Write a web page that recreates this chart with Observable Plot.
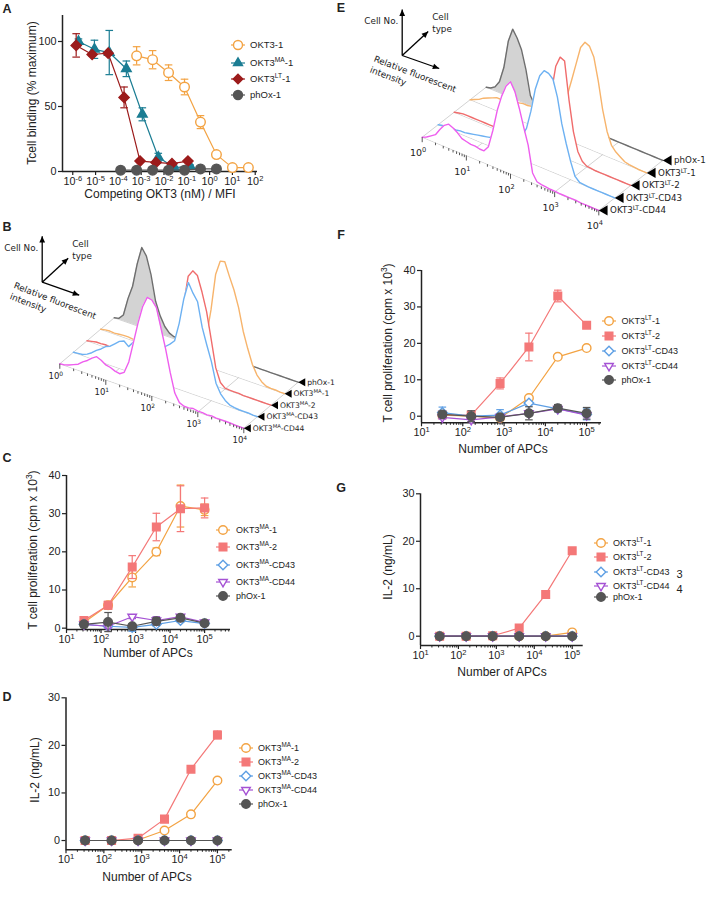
<!DOCTYPE html>
<html><head><meta charset="utf-8">
<script src="https://cdn.jsdelivr.net/npm/d3@7"></script>
<script src="https://cdn.jsdelivr.net/npm/@observablehq/plot@0.6"></script>
<style>
body{margin:0;background:#fff;}
#fig{position:relative;width:708px;height:904px;overflow:hidden;font-family:"Liberation Sans",Arial,sans-serif;color:#222;background:#fff;}
.plab{position:absolute;font-weight:bold;font-size:12.5px;transform:translate(-50%,-50%);}
.xt{position:absolute;font-size:12px;transform:translate(-50%,-50%);white-space:nowrap;}
.yt{position:absolute;font-size:12px;transform:translate(-50%,-50%) rotate(-90deg);white-space:nowrap;}
.num{position:absolute;font-size:11px;transform:translate(-50%,-50%);}
.leg{position:absolute;white-space:nowrap;transform:translateY(-50%);line-height:1;}
sup{font-size:70%;line-height:0;vertical-align:super;}
</style></head><body><div id="fig"></div>
<script>
// ---------------- DATA ----------------
const apcs = [32, 160, 800, 4000, 20000, 100000];
// Panel A (log10 of competing concentration)
const aLogOKT3 = [-3.2,-2.5,-1.8,-1.1,-0.4,0.3,1.0,1.7];
const aOKT3 = [89,86,76,65,38,13,3,3];
const aOKT3err = [7,7,6,6,5,2,1,1];
const aLogMA = [-5.75,-5.05,-4.4,-3.65,-2.95,-2.25,-1.55,-0.85];
const aMA = [100,94,91.5,79,44,11,3,4];
const aMAerr = [2,7,17,6,5,3,1,1];
const aLogLT = [-5.85,-5.15,-4.45,-3.75,-3.05,-2.35,-1.65,-0.95];
const aLT = [97,90,91,57,8,7,6,8];
const aLTerr = [9,1,1,8,1,1,1,1];
const aLogPhOx = [-3.9,-3.2,-2.5,-1.8,-1.1,-0.4,0.3];
const aPhOx = [1,1,1,1,1,2,2];
const aNames = ["OKT3-1","OKT3^MA^-1","OKT3^LT^-1","phOx-1"];
// Panel C
const cMA1 = [1.5,6,13.3,20,32,31];      const cMA1err = [0.5,1,2.5,1,5.5,1.5];
const cMA2 = [2,6,16,26.5,31.3,31.5];    const cMA2err = [0.5,1,3,3.6,6,2.6];
const cCD43 = [1,0.5,0.2,1,2,1.2];       const cCD43err = [0.3,0.3,1,0.5,0.5,0.5];
const cCD44 = [1,0.5,3,2,3,1.5];         const cCD44err = [0.5,0.5,0.5,1,0.5,0.5];
const cPhOx = [1,1.6,0.5,1.8,2.7,1.3];   const cPhOxerr = [0.5,2.5,0.5,1,0.8,0.5];
// Panel D
const dMA1 = [0,0,0.1,2.1,5.5,12.6];
const dMA2 = [0,0,0.5,4.5,15,22.2];      const dMA2err = [0,0,0,0.3,0.3,0.8];
const dCD43 = [0,0,0,0,0,0];
const dCD44 = [0,0,0,0,0,0];
const dPhOx = [0,0,0,0,0,0];
// Panel F
const fLT1 = [0.3,0,-0.5,5,16.3,18.7];
const fLT2 = [0.4,0.3,9,19,33,25];       const fLT2err = [0.5,0.5,1.5,3.8,1.6,0.5];
const fCD43 = [1,0,0.3,3.6,2,0.5];       const fCD43err = [1.5,0.5,1.5,0.5,0.5,1.5];
const fCD44 = [-0.3,-1,-0.2,0.8,2,0.3];  const fCD44err = [0.5,0.5,0.5,0.5,0.5,0.5];
const fPhOx = [0.5,0,-0.3,0.8,2.2,0.8];  const fPhOxerr = [0.8,1.5,0.8,1.8,1,1.6];
// Panel G
const gLT1 = [0,0,0,0,0,0.8];
const gLT2 = [0,0,0.1,1.7,8.8,18];
const gCD43 = [0,0,0,0,0,0];
const gCD44 = [0,0,0,0,0,0];
const gPhOx = [0,0,0,0,0,0];
const maNames = ["OKT3^MA^-1","OKT3^MA^-2","OKT3^MA^-CD43","OKT3^MA^-CD44","phOx-1"];
const ltNames = ["OKT3^LT^-1","OKT3^LT^-2","OKT3^LT^-CD43","OKT3^LT^-CD44","phOx-1"];
// Histograms (log10 intensity grid, counts), front (CD44) to back (phOx-1)
const histL = [0,0.1,0.2,0.3,0.4,0.5,0.6,0.7,0.8,0.9,1,1.1,1.2,1.3,1.4,1.5,1.6,1.7,1.8,1.9,2,2.1,2.2,2.3,2.4,2.5,2.6,2.7,2.8,2.9,3,3.1,3.2,3.3,3.4,3.5,3.6,3.7,3.8,3.9,4];
const bCD44 = [0,0.5,2,4,6,10,13,17,20,18,15,14,12,11,14,26,47,68,86,97,96,90,71,52,30,11,3,1,1,2,1,1,0.5,1,0.5,0.5,0.5,0.5,0,0,0];
const bCD43 = [0,0.5,1,3,6,10,13,17,19,23,27,29,25,31,28,30,31,33,34,36,38,42,47,66,92,110,101,94,70,54,39,19,10,5,2,1,0.5,0.5,0.5,0,0];
const bMA2  = [0,1,2,2,2.5,2,2,2,3,3,3,3,3,3,3,3,3,3,5,12,35,70,100,107,104,89,71,45,18,5,1,0.5,0.5,0.5,0,0,0,0,0,0,0];
const bMA1  = [0,1,1.5,1,1.5,2,2,1.5,2,2,2,2,1.5,2,2,2,2,2,2.5,2.5,3,5,12,30,58,95,110,111,98,86,70,48,32,18,9,4,1,0.5,0.5,0,0];
const bPhOx = [0,1,6,24,38,62,80,73,56,31,18,9,4,2,1,1,0.5,0.5,0.5,0,0,0,0,0,0,0,0,0,0,0,0,0,0,0,0,0,0,0,0,0,0];
const bNames = ["OKT3^MA^-CD44","OKT3^MA^-CD43","OKT3^MA^-2","OKT3^MA^-1","phOx-1"];
const eCD44 = [0,2,5,8,15,21,24,22,19,15,14,13,13,12,12,18,36,58,74,86,92,84,69,52,36,10,3,2,1.5,1,1,0.5,0.5,0.5,0.5,0.5,0,0,0,0,0];
const eCD43 = [0,1,1,2,2,3,3,4,5,6,7,8,9,10,12,14,16,18,20,24,33,52,76,91,98,97,93,77,52,34,18,5,1,0.5,0,0,0,0,0,0,0];
const eLT2  = [0,1,2,2,2,2,2,2,2,2,2.5,2.5,2.5,3,3,3,3,3,4,6,12,30,60,88,99,97,60,30,12,4,1,0.5,0,0,0,0,0,0,0,0,0];
const eLT1  = [0,2,4,7,9,11,13,13,14,15,16,17,18,18,19,20,21,22,23,25,28,34,45,62,80,98,105,103,94,72,45,25,13,8,5,2,1,0.5,0,0,0];
const ePhOx = [0,1,4,11,27,55,69,62,52,34,10,2,1,0.5,0,0,0,0,0,0,0,0,0,0,0,0,0,0,0,0,0,0,0,0,0,0,0,0,0,0,0];
const eNames = ["OKT3^LT^-CD44","OKT3^LT^-CD43","OKT3^LT^-2","OKT3^LT^-1","phOx-1"];
const decades = [0,1,2,3,4];

// ---------------- STYLE ----------------
const cOrange="#F3A343", cSalmon="#F47878", cBlue="#5E9FE4", cPurple="#A552D4", cGrey="#555555", cTeal="#1B7D93", cRed="#9C1B1B";
const hColors=["#EE5EEE","#6DB1F2","#F06C6C","#F7B46C","#6E6E6E"];
const hFills=["white","white","white","white","#D3D3D3"];
const SVGNS="http://www.w3.org/2000/svg";
const fig=document.getElementById("fig");
const circle=d3.symbolCircle, square=d3.symbolSquare, diamond=d3.symbolDiamond2;
const triUp={draw(c,s){const R=Math.sqrt(s/Math.PI)*1.3;c.moveTo(0,-R);c.lineTo(R*0.866,R/2);c.lineTo(-R*0.866,R/2);c.closePath();}};
const triDown={draw(c,s){const R=Math.sqrt(s/Math.PI)*1.3;c.moveTo(0,R);c.lineTo(R*0.866,-R/2);c.lineTo(-R*0.866,-R/2);c.closePath();}};
const triLeft={draw(c,s){const R=Math.sqrt(s/Math.PI)*1.3;c.moveTo(-R,0);c.lineTo(R/2,-R*0.866);c.lineTo(R/2,R*0.866);c.closePath();}};
const capSym={draw(c,s){const r=Math.sqrt(s/Math.PI);c.moveTo(-r,0);c.lineTo(r,0);}};
function headSym(dx,dy){const L=Math.hypot(dx,dy),ux=dx/L,uy=dy/L,px=-uy,py=ux;
  return {draw(c,s){const h=Math.sqrt(s/Math.PI)*2,w=h*0.45;c.moveTo(0,0);c.lineTo(-ux*h+px*w,-uy*h+py*w);c.lineTo(-ux*h-px*w,-uy*h-py*w);c.closePath();}};}
const baseStyle={background:"transparent",overflow:"visible",fontFamily:"Liberation Sans, Arial, sans-serif",fontSize:"10px",color:"#222"};

function supify(root){
  root.querySelectorAll("text, tspan").forEach(el=>{
    if(el.children.length) return;
    const s=el.textContent; if(!s.includes("^")) return;
    const parts=s.split("^"); el.textContent="";
    parts.forEach((p,i)=>{ if(!p) return;
      const t=document.createElementNS(SVGNS,"tspan"); t.textContent=p;
      if(i%2){t.setAttribute("baseline-shift","super");t.setAttribute("font-size","70%");}
      el.appendChild(t);});
  });
}
function place(node,left,top,w,h){
  const d=document.createElement("div");
  d.style.cssText=`position:absolute;left:${left}px;top:${top}px;width:${w}px;height:${h}px;`;
  d.appendChild(node); fig.appendChild(d); supify(node);
}
const fmt=s=>s.replace(/\^([^^]*)\^/g,"<sup>$1</sup>");
function addText(cls,x,y,txt){const d=document.createElement("div");d.className=cls;d.style.left=x+"px";d.style.top=y+"px";d.innerHTML=fmt(txt);fig.appendChild(d);}
function minorTicks(maxExp,maxVal){const a=[];for(let e=1;e<=maxExp;e++)for(let k=2;k<=9;k++){const v=k*10**e;if(v<=maxVal)a.push(v);}return a;}

function lineChart(c){
  const marks=[];
  marks.push(Plot.ruleY([c.yDomain[0]],{stroke:"#222",strokeWidth:1.5}));
  marks.push(Plot.ruleX([c.xDomain[0]],{stroke:"#222",strokeWidth:1.5}));
  if(c.minor) marks.push(Plot.axisX({ticks:c.minor,tickSize:2.5,tickFormat:()=>"",label:null,stroke:"#222"}));
  marks.push(Plot.axisX({ticks:c.xTicks,tickSize:4,tickPadding:2,label:null,tickFormat:d=>"10^"+Math.round(Math.log10(d))+"^",stroke:"#222",strokeWidth:1.2,fontSize:10.8}));
  marks.push(Plot.axisY({ticks:c.yTicks,tickSize:4,tickPadding:2,label:null,tickFormat:d=>String(d),stroke:"#222",strokeWidth:1.2,fontSize:10.8}));
  c.series.forEach(s=>{
    const data=s.x.map((x,i)=>({x,y:s.y[i],e:s.err?s.err[i]:0}));
    const eb=data.filter(d=>d.e>0);
    marks.push(Plot.ruleX(eb,{x:"x",y1:d=>d.y-d.e,y2:d=>d.y+d.e,stroke:s.color,strokeWidth:1.2}));
    const caps=eb.flatMap(d=>[{x:d.x,y:d.y-d.e},{x:d.x,y:d.y+d.e}]);
    marks.push(Plot.dot(caps,{x:"x",y:"y",symbol:capSym,r:3.8,fill:"none",stroke:s.color,strokeWidth:1.2}));
    marks.push(Plot.line(data,{x:"x",y:"y",stroke:s.color,strokeWidth:1.2}));
    marks.push(Plot.dot(data,{x:"x",y:"y",symbol:s.symbol,r:s.r,fill:s.fill,stroke:s.color,strokeWidth:1.4}));
  });
  const p=Plot.plot({width:c.width,height:c.height,marginLeft:c.mL,marginRight:c.mR,marginTop:c.mT,marginBottom:c.mB,
    x:{type:"log",domain:c.xDomain},y:{domain:c.yDomain},style:baseStyle,marks});
  place(p,c.left,c.top,c.width,c.height);
}
function legend(items,symX,textX,ys,fs){
  items.forEach((it,i)=>{
    const svg=document.createElementNS(SVGNS,"svg");
    svg.setAttribute("width",16);svg.setAttribute("height",14);
    svg.style.cssText=`position:absolute;left:${symX-8}px;top:${ys[i]-7}px;overflow:visible`;
    const ln=document.createElementNS(SVGNS,"line");
    ln.setAttribute("x1",1);ln.setAttribute("x2",15);ln.setAttribute("y1",7);ln.setAttribute("y2",7);
    ln.setAttribute("stroke",it.color);ln.setAttribute("stroke-width",1.2);svg.appendChild(ln);
    const pth=d3.path(); it.symbol.draw(pth,Math.PI*it.r*it.r);
    const pe=document.createElementNS(SVGNS,"path");
    pe.setAttribute("d",pth.toString());pe.setAttribute("transform","translate(8,7)");
    pe.setAttribute("fill",it.fill);pe.setAttribute("stroke",it.color);pe.setAttribute("stroke-width",1.4);
    svg.appendChild(pe); fig.appendChild(svg);
    const t=document.createElement("div");t.className="leg";
    t.style.left=textX+"px";t.style.top=ys[i]+"px";t.style.fontSize=fs+"px";t.innerHTML=fmt(it.name);
    fig.appendChild(t);
  });
}
function hist3d(o){
  const P=(L,d,h)=>[o.origin[0]+o.ex[0]*L+o.ed[0]*d, o.origin[1]+o.ex[1]*L+o.ed[1]*d-h];
  const marks=[];
  const lines=[];
  decades.forEach(L=>{const a=P(L,0,0),b=P(L,4,0);lines.push({x1:a[0],y1:a[1],x2:b[0],y2:b[1]});});
  [0,1,2,3,4].forEach(d=>{const a=P(0,d,0),b=P(4,d,0);lines.push({x1:a[0],y1:a[1],x2:b[0],y2:b[1]});});
  marks.push(Plot.link(lines,{x1:"x1",y1:"y1",x2:"x2",y2:"y2",stroke:"#c6c6c6",strokeWidth:0.8}));
  for(let d=4;d>=0;d--){
    const rows=histL.map((L,i)=>{const b=P(L,d,0),t=P(L,d,o.series[d][i]);return {x:b[0],base:b[1],top:t[1]};});
    marks.push(Plot.areaY(rows,{x:"x",y1:"base",y2:"top",fill:hFills[d],curve:"linear"}));
    marks.push(Plot.line(rows,{x:"x",y:"top",stroke:hColors[d],strokeWidth:1.4,curve:"linear"}));
  }
  const tk=[];
  decades.forEach(n=>{tk.push({L:n,len:5});if(n<4)for(let k=2;k<=9;k++)tk.push({L:n+Math.log10(k),len:2.5});});
  marks.push(Plot.link(tk,{x1:d=>P(d.L,0,0)[0],y1:d=>P(d.L,0,0)[1],x2:d=>P(d.L,0,0)[0],y2:d=>P(d.L,0,0)[1]+d.len,stroke:"#444",strokeWidth:0.9}));
  marks.push(Plot.text(decades,{x:n=>P(n,0,0)[0]+o.lab[0],y:n=>P(n,0,0)[1]+o.lab[1],text:n=>"10^"+n+"^",fontSize:o.tickFont,fontFamily:"DejaVu Sans"}));
  const lbl=o.names.map((nm,d)=>{const p=P(4,d,0);return {x:p[0],y:p[1],nm};});
  marks.push(Plot.dot(lbl,{x:"x",y:"y",dx:o.triR*1.3,symbol:triLeft,r:o.triR,fill:"black",stroke:"none"}));
  marks.push(Plot.text(lbl,{x:"x",y:"y",text:"nm",dx:o.triR*2.5,textAnchor:"start",fontSize:o.nameFont,fontFamily:"DejaVu Sans"}));
  const k=o.key;
  const dirs=[[0,-46],[26,-24],[37,13]];
  const arrows=dirs.map(v=>({x1:k[0],y1:k[1],x2:k[0]+v[0],y2:k[1]+v[1]}));
  marks.push(Plot.link(arrows,{x1:"x1",y1:"y1",x2:"x2",y2:"y2",stroke:"black",strokeWidth:1.3}));
  dirs.forEach((v,i)=>marks.push(Plot.dot([arrows[i]],{x:"x2",y:"y2",symbol:headSym(v[0],v[1]),r:3.2,fill:"black",stroke:"none"})));
  marks.push(Plot.text([{t:"Cell No.",dx:-4,dy:-34}],{x:d=>k[0]+d.dx,y:d=>k[1]+d.dy,text:"t",textAnchor:"end",fontSize:8.8,fontFamily:"DejaVu Sans"}));
  const st=[{t:"Cell",dx:30,dy:-38,r:0},{t:"type",dx:30,dy:-26,r:0},{t:"Relative fluorescent",dx:-28,dy:3,r:21},{t:"intensity",dx:-32,dy:14,r:21}];
  marks.push(Plot.text(st,{x:d=>k[0]+d.dx,y:d=>k[1]+d.dy,text:"t",rotate:"r",textAnchor:"start",fontSize:8.8,fontFamily:"DejaVu Sans"}));
  const p=Plot.plot({width:o.width,height:o.height,margin:0,
    x:{domain:[o.left,o.left+o.width],range:[0,o.width],axis:null},
    y:{domain:[o.top,o.top+o.height],range:[0,o.height],axis:null},
    style:baseStyle,marks});
  place(p,o.left,o.top,o.width,o.height);
}

// ---------------- PANEL A ----------------
lineChart({left:0,top:0,width:300,height:210,mL:62,mT:15,mB:39,mR:43,
  xDomain:[10**-6.45,10**2.1],yDomain:[0,120],xTicks:[1e-6,1e-5,1e-4,1e-3,1e-2,1e-1,1,10,100],yTicks:[0,50,100],
  series:[
    {x:aLogOKT3.map(v=>10**v),y:aOKT3,err:aOKT3err,color:cOrange,symbol:circle,fill:"white",r:4.8},
    {x:aLogMA.map(v=>10**v),y:aMA,err:aMAerr,color:cTeal,symbol:triUp,fill:cTeal,r:4.3},
    {x:aLogLT.map(v=>10**v),y:aLT,err:aLTerr,color:cRed,symbol:diamond,fill:cRed,r:4.6},
    {x:aLogPhOx.map(v=>10**v),y:aPhOx,color:cGrey,symbol:circle,fill:cGrey,r:4.8}]});
legend([{name:aNames[0],color:cOrange,symbol:circle,fill:"white",r:4.5},{name:aNames[1],color:cTeal,symbol:triUp,fill:cTeal,r:4},
  {name:aNames[2],color:cRed,symbol:diamond,fill:cRed,r:4.3},{name:aNames[3],color:cGrey,symbol:circle,fill:cGrey,r:4.5}],238,250,[44.5,62.5,79,95],9.5);

const st5=(names)=>[
  {name:names[0],color:cOrange,symbol:circle,fill:"white",r:4.3},
  {name:names[1],color:cSalmon,symbol:square,fill:cSalmon,r:4.3},
  {name:names[2],color:cBlue,symbol:diamond,fill:"white",r:4.3},
  {name:names[3],color:cPurple,symbol:triDown,fill:"white",r:3.8},
  {name:names[4],color:cGrey,symbol:circle,fill:cGrey,r:4.3}];
function series5(names,ys,errs){return st5(names).map((s,i)=>({...s,x:apcs,y:ys[i],err:errs[i]}));}

// ---------------- PANEL C ----------------
lineChart({left:0,top:455,width:260,height:200,mL:66,mT:20,mB:26,mR:30,
  xDomain:[10,10**5.75],yDomain:[-0.35,40],xTicks:[10,100,1e3,1e4,1e5],yTicks:[0,10,20,30,40],minor:minorTicks(5,10**5.75),
  series:series5(maNames,[cMA1,cMA2,cCD43,cCD44,cPhOx],[cMA1err,cMA2err,cCD43err,cCD44err,cPhOxerr])});
legend(st5(maNames),223,236,[530,547,565,582,596],9);
// ---------------- PANEL D ----------------
lineChart({left:0,top:680,width:260,height:190,mL:65.5,mT:17.3,mB:20.7,mR:28.3,
  xDomain:[10,10**5.39],yDomain:[-1.95,30],xTicks:[10,100,1e3,1e4,1e5],yTicks:[0,10,20,30],minor:minorTicks(5,10**5.39),
  series:series5(maNames,[dMA1,dMA2,dCD43,dCD44,dPhOx],[null,dMA2err,null,null,null])});
legend(st5(maNames),245.5,258,[747.5,762,776,790,803.5],9);
// ---------------- PANEL F ----------------
lineChart({left:360,top:250,width:270,height:200,mL:61,mT:20,mB:27.7,mR:29,
  xDomain:[10,10**5.36],yDomain:[-1.81,40],xTicks:[10,100,1e3,1e4,1e5],yTicks:[0,10,20,30,40],minor:minorTicks(5,10**5.36),
  series:series5(ltNames,[fLT1,fLT2,fCD43,fCD44,fPhOx],[null,fLT2err,fCD43err,fCD44err,fPhOxerr])});
legend(st5(ltNames),609,621.5,[321,336,351,366,379.5],9);
// ---------------- PANEL G ----------------
lineChart({left:360,top:470,width:250,height:200,mL:60,mT:23.3,mB:25,mR:27.3,
  xDomain:[10,10**5.29],yDomain:[-1.96,30],xTicks:[10,100,1e3,1e4,1e5],yTicks:[0,10,20,30],minor:minorTicks(5,10**5.29),
  series:series5(ltNames,[gLT1,gLT2,gCD43,gCD44,gPhOx],[null,null,null,null,null])});
legend(st5(ltNames),600.5,613,[543,557,572,586,597],9);
addText("num",679.5,574,"3"); addText("num",679.5,588.5,"4");

// ---------------- PANEL B / E (3D histograms) ----------------
hist3d({left:0,top:215,width:345,height:235,origin:[59.3,363.3],ex:[46,16.1],ed:[13.6,-11.5],
  series:[bCD44,bCD43,bMA2,bMA1,bPhOx],names:bNames,lab:[-4,12],tickFont:8.5,nameFont:7.6,triR:3.6,key:[41.7,281.7]});
hist3d({left:355,top:0,width:353,height:235,origin:[421.7,136.7],ex:[44.15,18.3],ed:[16,-12.5],
  series:[eCD44,eCD43,eLT2,eLT1,ePhOx],names:eNames,lab:[-4,16],tickFont:9.5,nameFont:8.7,triR:4.5,key:[401.7,55]});

// ---------------- TITLES & PANEL LETTERS ----------------
addText("xt",160,194,"Competing OKT3 (nM) / MFI"); addText("yt",32,93,"Tcell binding (% maximum)");
addText("xt",148,653,"Number of APCs"); addText("yt",33,550,"T cell proliferation (cpm x 10^3^)");
addText("xt",147,877,"Number of APCs"); addText("yt",35,770,"IL-2 (ng/mL)");
addText("xt",503,449,"Number of APCs"); addText("yt",388,343,"T cell proliferation (cpm x 10^3^)");
addText("xt",502,672,"Number of APCs"); addText("yt",388,567,"IL-2 (ng/mL)");
[["A",7,9],["B",7,227],["C",7,458],["D",7,697],["E",341,8],["F",341,235],["G",341,488]].forEach(([t,x,y])=>addText("plab",x,y,t));
</script></body></html>
